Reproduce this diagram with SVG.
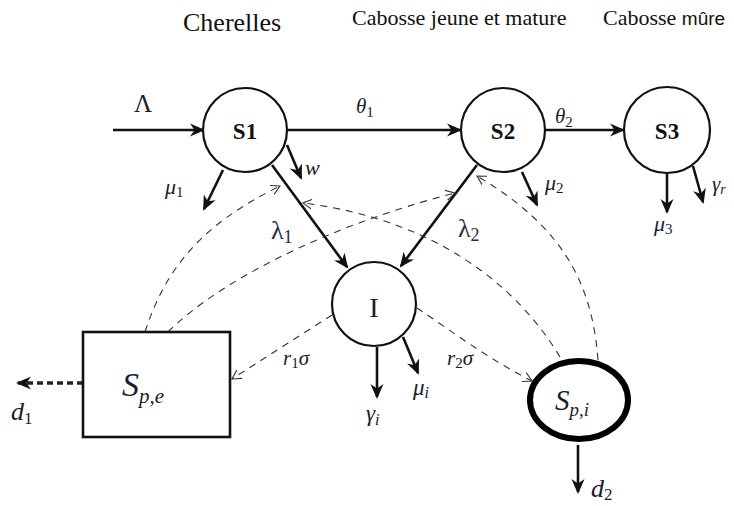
<svg xmlns="http://www.w3.org/2000/svg" width="734" height="506" viewBox="0 0 734 506">
<style>
.bg{fill:#ffffff}
.node{fill:#ffffff;stroke:#111;stroke-width:2.2}
.thick{fill:#ffffff;stroke:#000;stroke-width:6}
.arr{fill:none;stroke:#111;stroke-width:2.6;marker-end:url(#ah)}
.dash{fill:none;stroke:#333;stroke-width:1.1;stroke-dasharray:7,6;marker-end:url(#oh)}
.dthick{fill:none;stroke:#222;stroke-width:3.5;stroke-dasharray:6,4;marker-end:url(#ah)}
.title{font-family:"Liberation Serif","Times New Roman",serif;fill:#111}
.nl{font-family:"Liberation Serif","Times New Roman",serif;font-weight:bold;font-size:23px;fill:#111;text-anchor:middle}
.m{font-family:"Liberation Serif","Times New Roman",serif;font-style:italic;fill:#1c1c2c}
.up{font-family:"Liberation Serif","Times New Roman",serif;fill:#1c1c2c}
</style>
<defs>
<marker id="ah" viewBox="0 -7 16 14" refX="13" refY="0" markerWidth="16" markerHeight="14" markerUnits="userSpaceOnUse" orient="auto">
<path d="M0,-6.5 L15,0 L0,6.5 L4.5,0 z" fill="#111" stroke="none"/>
</marker>
<marker id="oh" viewBox="0 -6 10 12" refX="9" refY="0" markerWidth="10" markerHeight="12" markerUnits="userSpaceOnUse" orient="auto">
<path d="M0,-5 L9,0 L0,5" fill="none" stroke="#333" stroke-width="1.1"/>
</marker>
</defs>
<rect class="bg" x="0" y="0" width="734" height="506"/>

<g id="titles">
<text class="title" x="183" y="31" style="font-size:26px">Cherelles</text>
<text class="title" x="352" y="25" style="font-size:22px">Cabosse jeune et mature</text>
<text class="title" x="603" y="25" style="font-size:22px">Cabosse <tspan style="font-family:'Liberation Sans',Arial,sans-serif;font-size:19px">mûre</tspan></text>
</g>

<g id="connectors">
<line class="arr" x1="113" y1="130" x2="203" y2="130"/>
<line class="arr" x1="287" y1="130" x2="460" y2="130"/>
<line class="arr" x1="545" y1="130" x2="623" y2="130"/>
<line class="arr" x1="287" y1="145" x2="301" y2="178"/>
<line class="arr" x1="223" y1="170" x2="204" y2="209"/>
<line class="arr" x1="272" y1="165" x2="347" y2="267"/>
<line class="arr" x1="477" y1="165" x2="401" y2="266"/>
<line class="arr" x1="522" y1="172" x2="537" y2="205"/>
<line class="arr" x1="667" y1="173" x2="667" y2="212"/>
<line class="arr" x1="693" y1="166" x2="703" y2="202"/>
<line class="arr" x1="377" y1="347" x2="377" y2="397"/>
<line class="arr" x1="403" y1="337" x2="418" y2="373"/>
<line class="arr" x1="578" y1="445" x2="578" y2="492"/>
<line class="dthick" x1="83" y1="383" x2="18" y2="383"/>
<path class="dash" d="M145,332 C165,270 200,225 280,186"/>
<path class="dash" d="M168,332 C220,280 330,225 455,193"/>
<path class="dash" d="M560,357 C520,290 440,220 303,203"/>
<path class="dash" d="M598,360 C592,280 560,225 477,176"/>
<path class="dash" d="M332,315 L232,379"/>
<path class="dash" d="M417,308 C450,330 490,360 532,381"/>
</g>

<g id="S1"><circle class="node" cx="245" cy="130" r="42"/><text class="nl" x="245" y="139">S1</text></g>
<g id="S2"><circle class="node" cx="503" cy="130" r="42"/><text class="nl" x="503" y="139">S2</text></g>
<g id="S3"><circle class="node" cx="667" cy="130" r="43"/><text class="nl" x="667" y="139">S3</text></g>
<g id="I"><circle class="node" cx="374" cy="304" r="42"/><text class="up" x="374" y="317" style="font-size:28px" text-anchor="middle">I</text></g>
<g id="Spe"><rect class="node" x="83" y="332" width="147" height="105" style="stroke-width:2.6"/>
<text class="m" x="122" y="396" style="font-size:34px">S<tspan style="font-size:21px" dy="7">p,e</tspan></text></g>
<g id="Spi"><ellipse class="thick" cx="579" cy="400" rx="49" ry="39"/>
<text class="m" x="555" y="410" style="font-size:29px">S<tspan style="font-size:19px" dy="6">p,i</tspan></text></g>

<g id="labels">
<text class="up" x="134" y="112" style="font-size:25px">Λ</text>
<text class="m" x="356" y="113" style="font-size:21px">θ<tspan style="font-size:15px;font-style:normal" dy="4">1</tspan></text>
<text class="m" x="555" y="123" style="font-size:21px">θ<tspan style="font-size:15px;font-style:normal" dy="4">2</tspan></text>
<text class="m" x="305" y="175" style="font-size:22px">w</text>
<text class="m" x="165" y="194" style="font-size:22px">μ<tspan style="font-size:15px;font-style:normal" dy="3">1</tspan></text>
<text class="up" x="271" y="239" style="font-size:26px;fill:#2a2a55">λ<tspan style="font-size:18px" dy="4">1</tspan></text>
<text class="up" x="458" y="237" style="font-size:26px;fill:#3a2a35">λ<tspan style="font-size:18px" dy="4">2</tspan></text>
<text class="m" x="545" y="190" style="font-size:22px">μ<tspan style="font-size:15px;font-style:normal" dy="3">2</tspan></text>
<text class="m" x="654" y="231" style="font-size:22px">μ<tspan style="font-size:15px;font-style:normal" dy="3">3</tspan></text>
<text class="m" x="712" y="191" style="font-size:21px">γ<tspan style="font-size:14px" dy="3">r</tspan></text>
<text class="m" x="283" y="365" style="font-size:21px">r<tspan style="font-size:15px;font-style:normal" dy="3">1</tspan><tspan dy="-3">σ</tspan></text>
<text class="m" x="447" y="365" style="font-size:21px">r<tspan style="font-size:15px;font-style:normal" dy="3">2</tspan><tspan dy="-3">σ</tspan></text>
<text class="m" x="366" y="421" style="font-size:23px">γ<tspan style="font-size:16px" dy="4">i</tspan></text>
<text class="m" x="413" y="395" style="font-size:23px">μ<tspan style="font-size:16px" dy="3">i</tspan></text>
<text class="m" x="11" y="420" style="font-size:26px">d<tspan style="font-size:17px;font-style:normal" dy="4">1</tspan></text>
<text class="m" x="591" y="497" style="font-size:26px">d<tspan style="font-size:17px;font-style:normal" dy="3">2</tspan></text>
</g>
</svg>
